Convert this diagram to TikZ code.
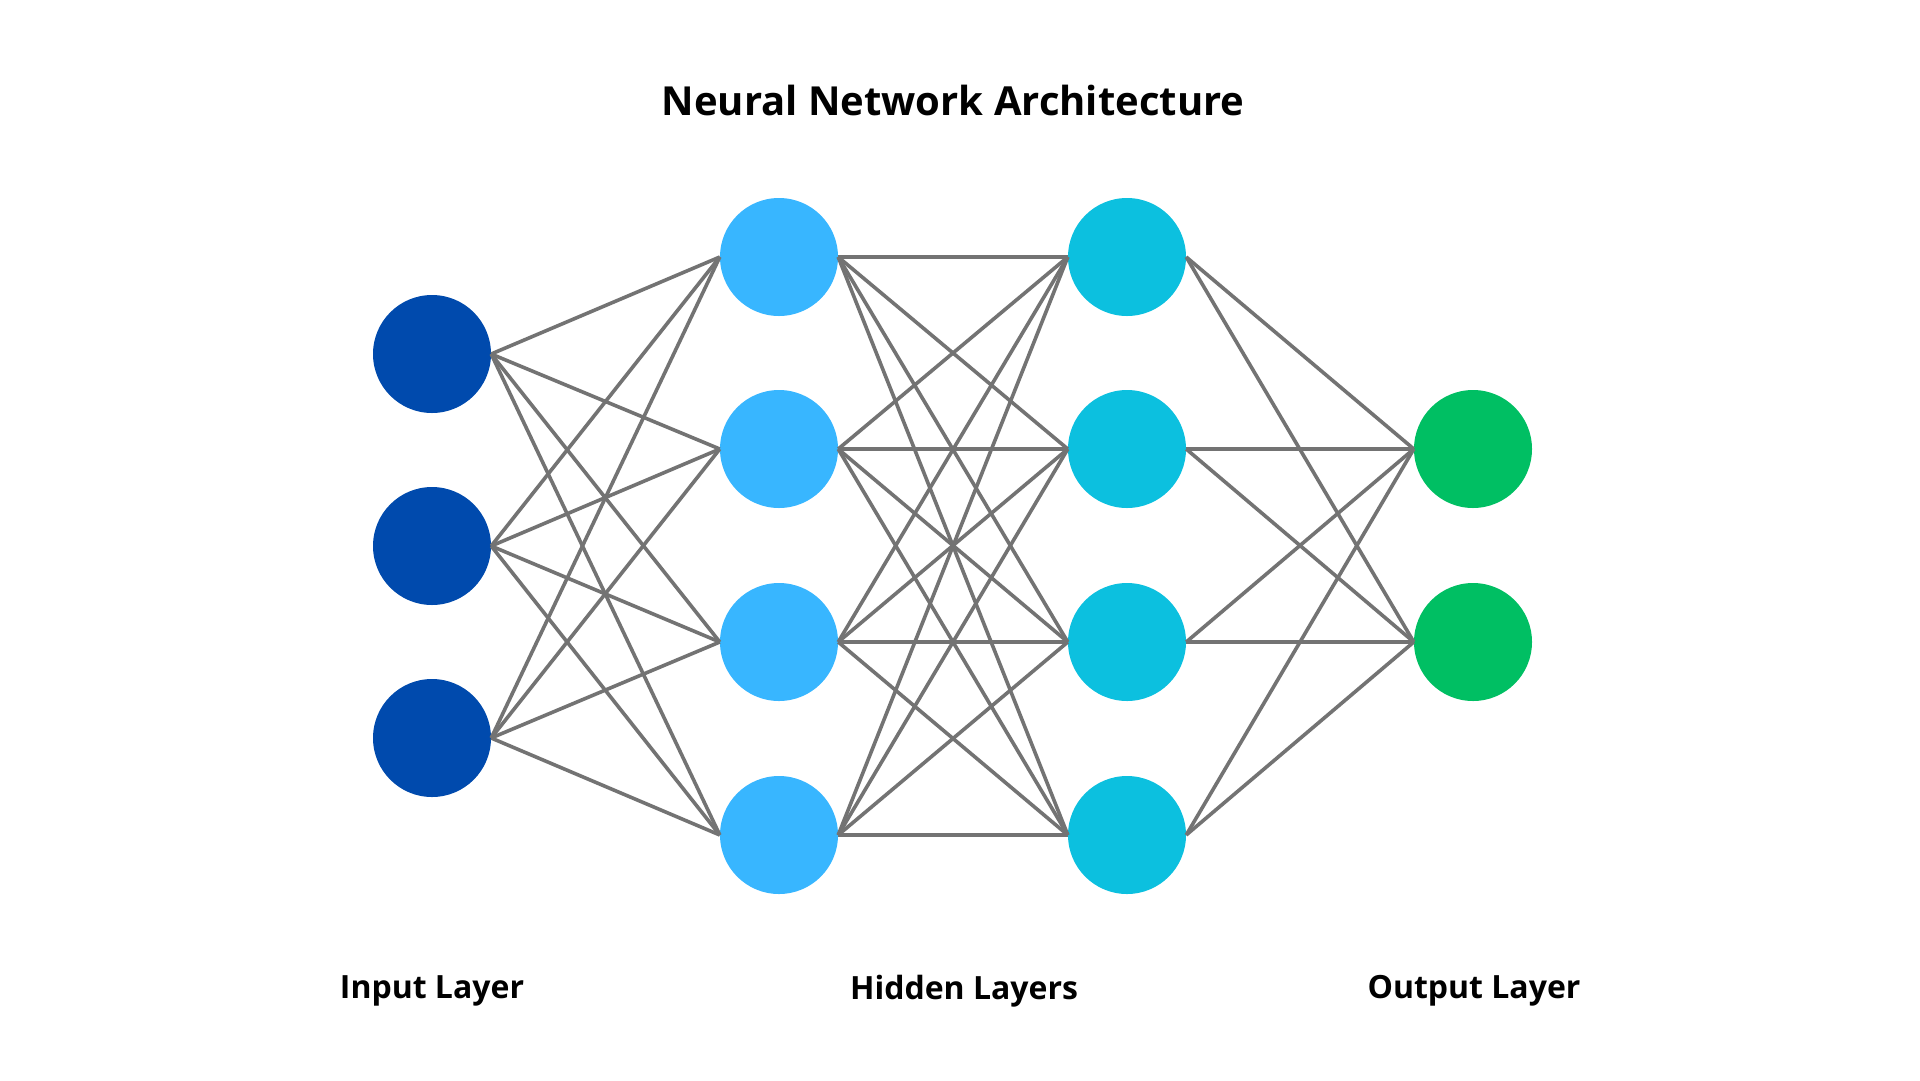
\documentclass[tikz,border=0pt]{standalone}
\usepackage{fontspec}
\setmainfont{Open Sans}
\definecolor{inblue}{HTML}{004AAD}
\definecolor{hidA}{HTML}{38B6FF}
\definecolor{hidB}{HTML}{0CC0DF}
\definecolor{outgreen}{HTML}{00BF63}
\definecolor{edgegray}{HTML}{737373}
\begin{document}
\begin{tikzpicture}[x=1pt,y=-1pt,
  neuron/.style={circle,minimum size=118pt,inner sep=0pt},
  link/.style={draw=edgegray,line width=3.6pt},
  lbl/.style={font=\fontsize{32}{40}\selectfont\bfseries},
  ttl/.style={font=\fontsize{40}{48}\selectfont\bfseries}]
\useasboundingbox (0,0) rectangle (1920,1080);
\fill[white] (0,0) rectangle (1920,1080);
\foreach \i/\y in {1/354,2/546,3/738}
  \node[neuron,fill=inblue] (i\i) at (432,\y) {};
\foreach \i/\y in {1/257,2/449,3/642,4/835}{
  \node[neuron,fill=hidA] (a\i) at (779,\y) {};
  \node[neuron,fill=hidB] (b\i) at (1127,\y) {};
}
\foreach \i/\y in {1/449,2/642}
  \node[neuron,fill=outgreen] (o\i) at (1473,\y) {};
\foreach \s in {1,2,3}
  \foreach \t in {1,2,3,4}
    \draw[link] (i\s.east) -- (a\t.west);
\foreach \s in {1,2,3,4}
  \foreach \t in {1,2,3,4}
    \draw[link] (a\s.east) -- (b\t.west);
\foreach \s in {1,2,3,4}
  \foreach \t in {1,2}
    \draw[link] (b\s.east) -- (o\t.west);
\node[ttl] (title) at (953,100) {Neural Network Architecture};
\node[lbl] (lin) at (432,991) {Input Layer};
\node[lbl] (lhid) at (964,991) {Hidden Layers};
\node[lbl] (lout) at (1474,991) {Output Layer};
\end{tikzpicture}
\end{document}
